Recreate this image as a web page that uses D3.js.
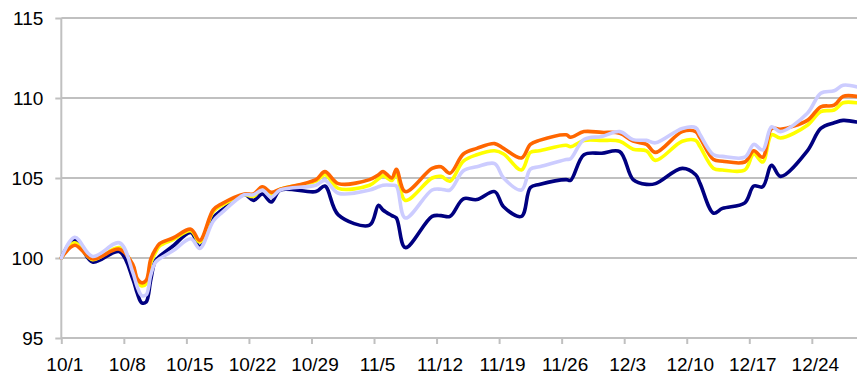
<!DOCTYPE html>
<html>
<head>
<meta charset="utf-8">
<script src="https://cdn.jsdelivr.net/npm/d3@7"></script>
<style>
  html, body { margin: 0; padding: 0; background: #fff; }
  svg { display: block; }
  text { font-family: "Liberation Sans", Arial, sans-serif; font-size: 19px; fill: #000; }
</style>
</head>
<body>
<svg id="chart" width="857" height="375"></svg>
<script>
// Day offsets from 10/1
const days = [0, 1.5, 3.5, 6.5, 8, 8.5, 9, 9.5, 10, 10.5, 11, 12.5, 14.5, 15.5, 17, 18, 20.5, 21.5, 22.5, 23.5, 24.5,
  28.5, 29.5, 31, 34.5, 35.5, 36, 37, 37.5, 38.5, 41.5, 42.5, 43.5, 45, 46.5, 48.5, 49.5, 51.5, 52.5,
  53.5, 56.5, 57, 58.5, 60.5, 62.5, 64, 65.5, 66.5, 69.5, 71, 71.5, 73, 74, 76.5, 77.5, 78.5, 79.5,
  80.5, 83.5, 85, 86.5, 87.5, 89];

const navy = [100, 101.15, 99.75, 100.4, 98.7, 97.8, 97.2, 97.25, 98.6, 99.8, 100.1, 100.75, 101.6, 100.7, 102.5, 103.0, 103.95, 103.6, 104.0, 103.5, 104.25,
  104.15, 104.5, 102.7, 102.05, 103.3, 103.0, 102.65, 102.5, 100.65, 102.6, 102.65, 102.6, 103.7, 103.65, 104.15, 103.2, 102.6, 104.4,
  104.6, 104.9, 104.85, 106.45, 106.55, 106.65, 104.9, 104.6, 104.65, 105.6, 105.2, 104.65, 102.8, 103.1, 103.45, 104.5, 104.45, 105.8,
  105.1, 106.7, 108.1, 108.45, 108.6, 108.5];

const orange = [100, 100.8, 99.95, 100.55, 99.6, 98.7, 98.45, 98.6, 99.9, 100.5, 100.9, 101.25, 101.8, 101.1, 103.0, 103.4, 104.0, 104.0, 104.45, 104.1, 104.3,
  104.9, 105.4, 104.65, 104.9, 105.2, 105.4, 105.0, 105.55, 104.15, 105.6, 105.7, 105.3, 106.5, 106.85, 107.15, 106.85, 106.25, 107.1,
  107.35, 107.7, 107.55, 107.9, 107.85, 107.8, 107.3, 107.1, 106.6, 107.9, 107.9, 107.5, 106.15, 106.05, 106.0, 106.7, 106.3, 108.1,
  108.05, 108.6, 109.45, 109.55, 110.1, 110.1];

const yellow = [100, 100.95, 99.9, 100.65, 99.5, 98.6, 98.25, 98.4, 99.7, 100.3, 100.75, 101.15, 101.7, 101.0, 102.9, 103.3, 103.95, 103.85, 104.35, 103.95, 104.3,
  104.8, 105.2, 104.35, 104.55, 104.95, 105.15, 104.85, 105.3, 103.6, 105.0, 105.1, 104.8, 106.05, 106.45, 106.7, 106.5, 105.5, 106.6,
  106.7, 107.05, 106.95, 107.35, 107.35, 107.3, 106.8, 106.7, 106.1, 107.3, 107.35, 106.95, 105.6, 105.5, 105.5, 106.5, 106.0, 107.7,
  107.5, 108.3, 109.15, 109.25, 109.7, 109.7];

const lavender = [100, 101.3, 100.1, 100.95, 99.1, 98.2, 97.65, 97.7, 98.9, 99.7, 99.95, 100.45, 101.2, 100.6, 102.3, 102.85, 103.95, 103.95, 104.25, 103.8, 104.25,
  104.55, 104.85, 104.05, 104.25, 104.45, 104.55, 104.55, 104.5, 102.5, 104.25, 104.3, 104.25, 105.45, 105.7, 105.9, 105.0, 104.25, 105.55,
  105.7, 106.15, 106.2, 107.4, 107.6, 107.9, 107.4, 107.35, 107.2, 108.1, 108.15, 107.7, 106.45, 106.35, 106.3, 107.1, 106.75, 108.2,
  107.9, 109.05, 110.3, 110.45, 110.8, 110.7];

const tickDays = [0, 7, 14, 21, 28, 35, 42, 49, 56, 63, 70, 77, 84];
const tickLabels = ["10/1", "10/8", "10/15", "10/22", "10/29", "11/5", "11/12", "11/19", "11/26", "12/3", "12/10", "12/17", "12/24"];
const yTicks = [95, 100, 105, 110, 115];

const seriesList = [
  { name: "navy", values: navy, color: "#000080" },
  { name: "yellow", values: yellow, color: "#FFFF00" },
  { name: "orange", values: orange, color: "#FF6600" },
  { name: "lavender", values: lavender, color: "#CCCCFF" }
];

const svg = d3.select("#chart");
const mLeft = 61.3, mRight = 856.5, mTop = 18, mBottom = 338;

const x = d3.scaleLinear().domain([0, 89]).range([mLeft, mRight]);
const y = d3.scaleLinear().domain([95, 115]).range([mBottom, mTop]);

// gridlines
svg.append("g").selectAll("line").data(yTicks.filter(d => d !== 95)).join("line")
  .attr("x1", mLeft).attr("x2", 857)
  .attr("y1", d => y(d)).attr("y2", d => y(d))
  .attr("stroke", "#c0c0c0").attr("stroke-width", 2);

// y axis
const yAxis = svg.append("g").attr("transform", `translate(${mLeft},0)`)
  .call(d3.axisLeft(y).tickValues(yTicks).tickSize(6).tickFormat(d3.format("d")));
yAxis.select(".domain").attr("stroke", "#c0c0c0").attr("stroke-width", 2).attr("d", `M0,${mTop}V${mBottom}`);
yAxis.selectAll(".tick line").attr("stroke", "#c0c0c0").attr("stroke-width", 2);
yAxis.selectAll(".tick text").attr("x", -18).attr("dy", "0.36em")
  .style("font-family", "Liberation Sans, Arial, sans-serif").style("font-size", "19px").attr("fill", "#000");

// x axis
const xAxis = svg.append("g").attr("transform", `translate(0,${mBottom})`)
  .call(d3.axisBottom(x).tickValues(tickDays).tickSize(6).tickFormat((d, i) => tickLabels[i]));
xAxis.select(".domain").attr("stroke", "#c0c0c0").attr("stroke-width", 2).attr("d", `M${mLeft},0H857`);
xAxis.selectAll(".tick line").attr("stroke", "#c0c0c0").attr("stroke-width", 2);
xAxis.selectAll(".tick text").attr("y", 20).attr("dy", "0.71em").attr("dx", 3)
  .style("font-family", "Liberation Sans, Arial, sans-serif").style("font-size", "19px").attr("fill", "#000");

// lines
const line = d3.line()
  .x((d, i) => x(days[i]))
  .y(d => y(d))
  .curve(d3.curveCatmullRom.alpha(0.5));

svg.append("g").selectAll("path").data(seriesList).join("path")
  .attr("d", s => line(s.values))
  .attr("fill", "none")
  .attr("stroke", s => s.color)
  .attr("stroke-width", 3.6)
  .attr("stroke-linejoin", "round")
  .attr("stroke-linecap", "round");
</script>
</body>
</html>
